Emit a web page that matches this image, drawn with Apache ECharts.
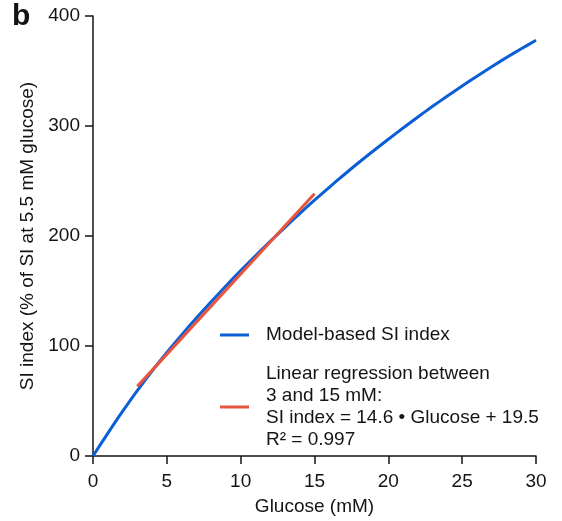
<!DOCTYPE html>
<html>
<head>
<meta charset="utf-8">
<script src="https://cdn.jsdelivr.net/npm/echarts@6/dist/echarts.min.js"></script>
<style>
  html, body { margin: 0; padding: 0; background: #fff; }
  #chart { width: 562px; height: 521px; }
</style>
</head>
<body>
<div id="chart"></div>
<script>
// glucose (mM) and model-based SI index
let glucose = [0, 1, 2, 3, 4, 5, 6, 7, 8, 9, 10, 11, 12, 13, 14, 15,
  16, 17, 18, 19, 20, 21, 22, 23, 24, 25, 26, 27, 28, 29, 30];
let modelSI = [0, 20.6, 40.5, 59.5, 77.3, 94.1, 110.1, 125.4, 140.2, 154.6, 168.5, 182.0, 195.1, 207.9, 220.4, 232.6,
  244.3, 255.7, 266.8, 277.5, 288.0, 298.2, 308.2, 317.9, 327.3, 336.4, 345.3, 353.9, 362.2, 370.2, 377.9];

// regression line endpoints (3 and 15 mM)
let regX = [3, 15];
let regY = [63.3, 238.5];

let xTicks = [0, 5, 10, 15, 20, 25, 30];
let yTicks = [0, 100, 200, 300, 400];

let font = '"Liberation Sans", Arial, Helvetica, sans-serif';
let ink = '#141414';
let blue = '#0b5fd6';
let red = '#e8553f';

let chart = echarts.init(document.getElementById('chart'));

let option = {
  animation: false,
  textStyle: { fontFamily: font, color: ink },
  grid: { left: 93, right: 26, top: 16, bottom: 63, containLabel: false },
  graphic: [
    {
      type: 'text', left: 12, top: 2,
      style: { text: 'b', font: 'bold 30px ' + font, fill: ink }
    }
  ],
  legend: {
    orient: 'vertical',
    left: 215,
    top: 319,
    itemWidth: 29,
    itemHeight: 3,
    itemGap: 17,
    icon: 'rect',
    textStyle: { fontFamily: font, fontSize: 19, color: ink, lineHeight: 22, padding: [0, 0, 0, 12] },
    data: ['Model-based SI index',
      'Linear regression between\n3 and 15 mM:\nSI index = 14.6 \u2022 Glucose + 19.5\nR\u00b2 = 0.997']
  },
  xAxis: {
    type: 'value',
    min: xTicks[0],
    max: xTicks[xTicks.length - 1],
    interval: 5,
    name: 'Glucose (mM)',
    nameLocation: 'middle',
    nameGap: 41,
    nameTextStyle: { fontSize: 19, color: ink },
    axisLine: { lineStyle: { color: ink, width: 1.5 } },
    axisTick: { show: true, length: 8, lineStyle: { color: ink, width: 1.5 } },
    axisLabel: { fontSize: 19, color: ink, margin: 16 },
    splitLine: { show: false }
  },
  yAxis: {
    type: 'value',
    min: yTicks[0],
    max: yTicks[yTicks.length - 1],
    interval: 100,
    name: 'SI index (% of SI at 5.5 mM glucose)',
    nameLocation: 'middle',
    nameGap: 56,
    nameTextStyle: { fontSize: 19, color: ink },
    axisLine: { show: true, lineStyle: { color: ink, width: 1.5 } },
    axisTick: { show: true, length: 8, lineStyle: { color: ink, width: 1.5 } },
    axisLabel: { fontSize: 19, color: ink, margin: 13 },
    splitLine: { show: false }
  },
  series: [
    {
      name: 'Model-based SI index',
      type: 'line',
      smooth: 0.3,
      showSymbol: false,
      color: blue,
      lineStyle: { color: blue, width: 3 },
      data: glucose.map((g, i) => [g, modelSI[i]]),
      z: 2
    },
    {
      name: 'Linear regression between\n3 and 15 mM:\nSI index = 14.6 \u2022 Glucose + 19.5\nR\u00b2 = 0.997',
      type: 'line',
      showSymbol: false,
      color: red,
      lineStyle: { color: red, width: 3 },
      data: regX.map((g, i) => [g, regY[i]]),
      z: 3
    }
  ]
};

chart.setOption(option);
</script>
</body>
</html>
